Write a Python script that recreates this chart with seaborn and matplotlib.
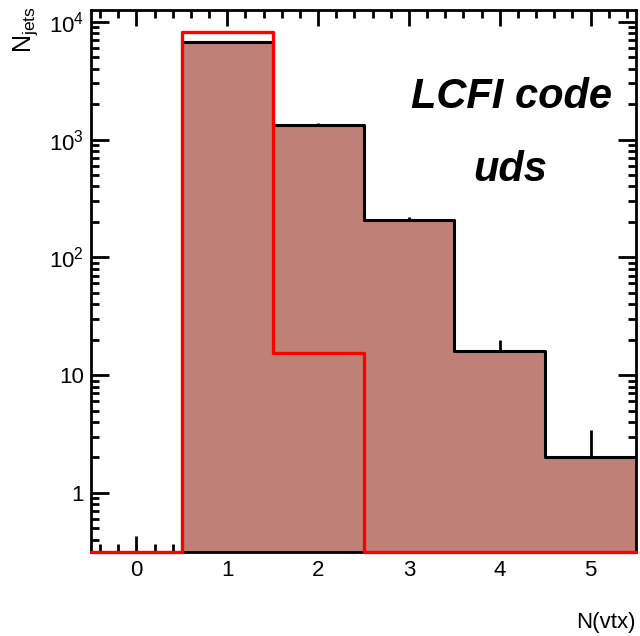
import numpy as np
import pandas as pd
import matplotlib
matplotlib.use("Agg")
import matplotlib.pyplot as plt
import seaborn as sns
from matplotlib.ticker import FixedLocator, MultipleLocator, LogLocator, NullFormatter

# ---- data ----
n_vtx = [0, 1, 2, 3, 4, 5]
uds_counts = [0, 6800, 1340, 207, 16, 2]
red_counts = [0, 8170, 15.4, 0, 0, 0]
bin_edges = [-0.5, 0.5, 1.5, 2.5, 3.5, 4.5, 5.5]
x_ticks = [0, 1, 2, 3, 4, 5]
y_ticks = [1, 10, 100, 1000, 10000]
y_tick_labels = ["1", "10", "$10^{2}$", "$10^{3}$", "$10^{4}$"]
y_min, y_max = 0.315, 1.26e4

sns.set_style("ticks")
plt.rcParams['font.family'] = ['Liberation Sans', 'DejaVu Sans']
plt.rcParams['mathtext.fontset'] = 'custom'
plt.rcParams['mathtext.rm'] = 'Liberation Sans'
plt.rcParams['mathtext.it'] = 'Liberation Sans:italic'
plt.rcParams['mathtext.bf'] = 'Liberation Sans:bold'
for k in ['text.color', 'axes.labelcolor', 'xtick.color', 'ytick.color', 'axes.edgecolor']:
    plt.rcParams[k] = 'black'

# histograms are drawn clipped at the frame floor, like ROOT does
df = pd.DataFrame({
    "n_vtx": n_vtx,
    "uds": np.maximum(uds_counts, y_min),
    "red": np.maximum(red_counts, y_min),
})

fig = plt.figure(figsize=(6.4, 6.36), dpi=100)
ax = fig.add_axes([0.1422, 0.1321, 0.8516, 0.8522])
ax.set_yscale("log")

sns.histplot(data=df, x="n_vtx", weights="uds", bins=bin_edges, element="step",
             fill=True, color="#bf8078", alpha=1, linewidth=0, ax=ax, zorder=2)
sns.histplot(data=df, x="n_vtx", weights="uds", bins=bin_edges, element="step",
             fill=False, color="black", linewidth=2.2, ax=ax, zorder=3)
sns.histplot(data=df, x="n_vtx", weights="red", bins=bin_edges, element="step",
             fill=False, color="#ff0000", linewidth=2.4, ax=ax, zorder=4, clip_on=False)

cnt = np.array(uds_counts, dtype=float)
pos = cnt > 0
ax.errorbar(np.array(n_vtx)[pos], cnt[pos], yerr=np.sqrt(cnt[pos]), fmt='none',
            ecolor='black', elinewidth=2, capsize=0, zorder=1)

ax.set_xlim(-0.5, 5.5)
ax.set_ylim(y_min, y_max)
ax.xaxis.set_major_locator(FixedLocator(x_ticks))
ax.xaxis.set_minor_locator(MultipleLocator(0.2))
ax.yaxis.set_major_locator(FixedLocator(y_ticks))
ax.set_yticklabels(y_tick_labels)
ax.yaxis.set_minor_locator(LogLocator(base=10, subs=range(2, 10), numticks=30))
ax.yaxis.set_minor_formatter(NullFormatter())

ax.tick_params(which='both', direction='in', top=True, right=True, width=2,
               color='black', labelcolor='black', labelsize=16)
ax.tick_params(axis='x', which='major', length=11.5, pad=6)
ax.tick_params(axis='x', which='minor', length=5.8)
ax.tick_params(axis='y', which='major', length=13, pad=5)
ax.tick_params(axis='y', which='minor', length=5.8)
for sp in ax.spines.values():
    sp.set_linewidth(2)
    sp.set_color('black')

ax.set_xlabel("N(vtx)", fontsize=16, ha='right', color='black')
ax.xaxis.set_label_coords(1.0, -0.111)
ax.set_ylabel("")
fig.text(0.04, 0.99, r"N$_{\mathrm{jets}}$", rotation=90, ha='center', va='top',
         fontsize=18, color='black')

ax.text(0.772, 0.839, "LCFI code", transform=ax.transAxes, ha='center', va='center',
        fontsize=30, fontweight='bold', fontstyle='italic', color='black')
ax.text(0.769, 0.705, "uds", transform=ax.transAxes, ha='center', va='center',
        fontsize=30, fontweight='bold', fontstyle='italic', color='black')

fig.savefig("out.png", dpi=100)
